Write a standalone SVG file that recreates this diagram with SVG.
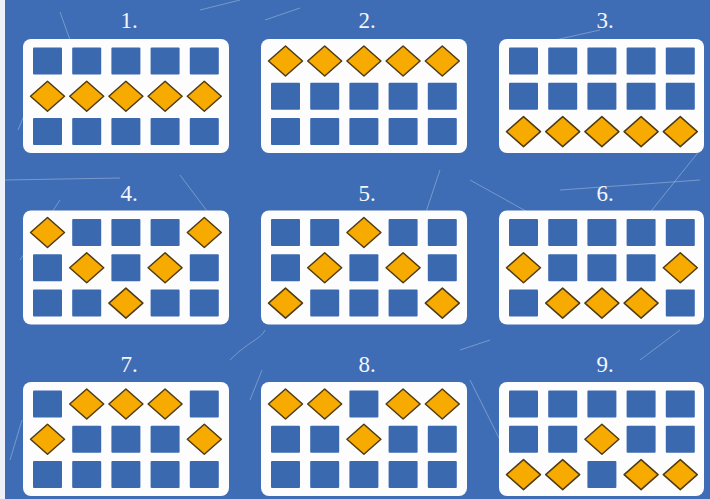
<svg xmlns="http://www.w3.org/2000/svg" xmlns:xlink="http://www.w3.org/1999/xlink" width="710" height="499" viewBox="0 0 710 499">
  <style>
    .bg { fill: #3f6db5; }
    .card { fill: #fdfdfd; }
    .sq { fill: #3b69b0; }
    .dia { fill: #f7aa00; stroke: #4e3a14; stroke-width: 1.5; stroke-linejoin: round; }
    .lbl { font-family: "Liberation Serif", "DejaVu Serif", serif; font-size: 23px; fill: #f4f6fb; text-anchor: middle; }
    .scratch { stroke: #dfe8f6; stroke-opacity: 0.35; stroke-width: 1; fill: none; }
  </style>
  <defs>
    <rect id="sq" class="sq" x="-14.5" y="-13.5" width="29" height="27" rx="1"/>
    <polygon id="dia" class="dia" points="-17,0 0,-15 17,0 0,15"/>
  </defs>

  <rect class="bg" x="0" y="0" width="710" height="499"/>
  <rect x="0" y="0" width="5" height="499" fill="#eef2f8"/>

  <g id="scratches">
    <path class="scratch" d="M18 130 L48 58"/>
    <path class="scratch" d="M60 12 L70 40"/>
    <path class="scratch" d="M200 10 L240 0"/>
    <path class="scratch" d="M265 20 L300 8"/>
    <path class="scratch" d="M555 40 L600 30"/>
    <path class="scratch" d="M560 190 L700 180"/>
    <path class="scratch" d="M640 225 L700 150"/>
    <path class="scratch" d="M470 180 L560 230"/>
    <path class="scratch" d="M420 230 L440 170"/>
    <path class="scratch" d="M20 260 L60 200"/>
    <path class="scratch" d="M180 175 L210 215"/>
    <path class="scratch" d="M5 180 L120 178"/>
    <path class="scratch" d="M230 360 C250 340 260 340 265 330"/>
    <path class="scratch" d="M460 350 L490 340"/>
    <path class="scratch" d="M640 360 L680 330"/>
    <path class="scratch" d="M250 400 L262 370"/>
    <path class="scratch" d="M470 380 L500 440"/>
    <path class="scratch" d="M10 460 L22 420"/>
  </g>

  <!-- Panel 1 -->
  <g id="p1" transform="translate(23,39)">
    <rect class="card" x="0" y="0" width="206" height="114" rx="8"/>
    <text class="lbl" x="106" y="-11">1.</text>
    <use href="#sq" x="24.5" y="22"/><use href="#sq" x="63.7" y="22"/><use href="#sq" x="102.9" y="22"/><use href="#sq" x="142.1" y="22"/><use href="#sq" x="181.3" y="22"/>
    <use href="#dia" x="24.5" y="57.3"/><use href="#dia" x="63.7" y="57.3"/><use href="#dia" x="102.9" y="57.3"/><use href="#dia" x="142.1" y="57.3"/><use href="#dia" x="181.3" y="57.3"/>
    <use href="#sq" x="24.5" y="92.6"/><use href="#sq" x="63.7" y="92.6"/><use href="#sq" x="102.9" y="92.6"/><use href="#sq" x="142.1" y="92.6"/><use href="#sq" x="181.3" y="92.6"/>
  </g>

  <!-- Panel 2 -->
  <g id="p2" transform="translate(261,39)">
    <rect class="card" x="0" y="0" width="206" height="114" rx="8"/>
    <text class="lbl" x="106" y="-11">2.</text>
    <use href="#dia" x="24.5" y="22"/><use href="#dia" x="63.7" y="22"/><use href="#dia" x="102.9" y="22"/><use href="#dia" x="142.1" y="22"/><use href="#dia" x="181.3" y="22"/>
    <use href="#sq" x="24.5" y="57.3"/><use href="#sq" x="63.7" y="57.3"/><use href="#sq" x="102.9" y="57.3"/><use href="#sq" x="142.1" y="57.3"/><use href="#sq" x="181.3" y="57.3"/>
    <use href="#sq" x="24.5" y="92.6"/><use href="#sq" x="63.7" y="92.6"/><use href="#sq" x="102.9" y="92.6"/><use href="#sq" x="142.1" y="92.6"/><use href="#sq" x="181.3" y="92.6"/>
  </g>

  <!-- Panel 3 -->
  <g id="p3" transform="translate(499,39)">
    <rect class="card" x="0" y="0" width="205" height="114" rx="8"/>
    <text class="lbl" x="106" y="-11">3.</text>
    <use href="#sq" x="24.5" y="22"/><use href="#sq" x="63.7" y="22"/><use href="#sq" x="102.9" y="22"/><use href="#sq" x="142.1" y="22"/><use href="#sq" x="181.3" y="22"/>
    <use href="#sq" x="24.5" y="57.3"/><use href="#sq" x="63.7" y="57.3"/><use href="#sq" x="102.9" y="57.3"/><use href="#sq" x="142.1" y="57.3"/><use href="#sq" x="181.3" y="57.3"/>
    <use href="#dia" x="24.5" y="92.6"/><use href="#dia" x="63.7" y="92.6"/><use href="#dia" x="102.9" y="92.6"/><use href="#dia" x="142.1" y="92.6"/><use href="#dia" x="181.3" y="92.6"/>
  </g>

  <!-- Panel 4 -->
  <g id="p4" transform="translate(23,210.5)">
    <rect class="card" x="0" y="0" width="206" height="114" rx="8"/>
    <text class="lbl" x="106" y="-10">4.</text>
    <use href="#dia" x="24.5" y="22"/><use href="#sq" x="63.7" y="22"/><use href="#sq" x="102.9" y="22"/><use href="#sq" x="142.1" y="22"/><use href="#dia" x="181.3" y="22"/>
    <use href="#sq" x="24.5" y="57.3"/><use href="#dia" x="63.7" y="57.3"/><use href="#sq" x="102.9" y="57.3"/><use href="#dia" x="142.1" y="57.3"/><use href="#sq" x="181.3" y="57.3"/>
    <use href="#sq" x="24.5" y="92.6"/><use href="#sq" x="63.7" y="92.6"/><use href="#dia" x="102.9" y="92.6"/><use href="#sq" x="142.1" y="92.6"/><use href="#sq" x="181.3" y="92.6"/>
  </g>

  <!-- Panel 5 -->
  <g id="p5" transform="translate(261,210.5)">
    <rect class="card" x="0" y="0" width="206" height="114" rx="8"/>
    <text class="lbl" x="106" y="-10">5.</text>
    <use href="#sq" x="24.5" y="22"/><use href="#sq" x="63.7" y="22"/><use href="#dia" x="102.9" y="22"/><use href="#sq" x="142.1" y="22"/><use href="#sq" x="181.3" y="22"/>
    <use href="#sq" x="24.5" y="57.3"/><use href="#dia" x="63.7" y="57.3"/><use href="#sq" x="102.9" y="57.3"/><use href="#dia" x="142.1" y="57.3"/><use href="#sq" x="181.3" y="57.3"/>
    <use href="#dia" x="24.5" y="92.6"/><use href="#sq" x="63.7" y="92.6"/><use href="#sq" x="102.9" y="92.6"/><use href="#sq" x="142.1" y="92.6"/><use href="#dia" x="181.3" y="92.6"/>
  </g>

  <!-- Panel 6 -->
  <g id="p6" transform="translate(499,210.5)">
    <rect class="card" x="0" y="0" width="205" height="114" rx="8"/>
    <text class="lbl" x="106" y="-10">6.</text>
    <use href="#sq" x="24.5" y="22"/><use href="#sq" x="63.7" y="22"/><use href="#sq" x="102.9" y="22"/><use href="#sq" x="142.1" y="22"/><use href="#sq" x="181.3" y="22"/>
    <use href="#dia" x="24.5" y="57.3"/><use href="#sq" x="63.7" y="57.3"/><use href="#sq" x="102.9" y="57.3"/><use href="#sq" x="142.1" y="57.3"/><use href="#dia" x="181.3" y="57.3"/>
    <use href="#sq" x="24.5" y="92.6"/><use href="#dia" x="63.7" y="92.6"/><use href="#dia" x="102.9" y="92.6"/><use href="#dia" x="142.1" y="92.6"/><use href="#sq" x="181.3" y="92.6"/>
  </g>

  <!-- Panel 7 -->
  <g id="p7" transform="translate(23,382)">
    <rect class="card" x="0" y="0" width="206" height="114" rx="8"/>
    <text class="lbl" x="106" y="-10">7.</text>
    <use href="#sq" x="24.5" y="22"/><use href="#dia" x="63.7" y="22"/><use href="#dia" x="102.9" y="22"/><use href="#dia" x="142.1" y="22"/><use href="#sq" x="181.3" y="22"/>
    <use href="#dia" x="24.5" y="57.3"/><use href="#sq" x="63.7" y="57.3"/><use href="#sq" x="102.9" y="57.3"/><use href="#sq" x="142.1" y="57.3"/><use href="#dia" x="181.3" y="57.3"/>
    <use href="#sq" x="24.5" y="92.6"/><use href="#sq" x="63.7" y="92.6"/><use href="#sq" x="102.9" y="92.6"/><use href="#sq" x="142.1" y="92.6"/><use href="#sq" x="181.3" y="92.6"/>
  </g>

  <!-- Panel 8 -->
  <g id="p8" transform="translate(261,382)">
    <rect class="card" x="0" y="0" width="206" height="114" rx="8"/>
    <text class="lbl" x="106" y="-10">8.</text>
    <use href="#dia" x="24.5" y="22"/><use href="#dia" x="63.7" y="22"/><use href="#sq" x="102.9" y="22"/><use href="#dia" x="142.1" y="22"/><use href="#dia" x="181.3" y="22"/>
    <use href="#sq" x="24.5" y="57.3"/><use href="#sq" x="63.7" y="57.3"/><use href="#dia" x="102.9" y="57.3"/><use href="#sq" x="142.1" y="57.3"/><use href="#sq" x="181.3" y="57.3"/>
    <use href="#sq" x="24.5" y="92.6"/><use href="#sq" x="63.7" y="92.6"/><use href="#sq" x="102.9" y="92.6"/><use href="#sq" x="142.1" y="92.6"/><use href="#sq" x="181.3" y="92.6"/>
  </g>

  <!-- Panel 9 -->
  <g id="p9" transform="translate(499,382)">
    <rect class="card" x="0" y="0" width="205" height="114" rx="8"/>
    <text class="lbl" x="106" y="-10">9.</text>
    <use href="#sq" x="24.5" y="22"/><use href="#sq" x="63.7" y="22"/><use href="#sq" x="102.9" y="22"/><use href="#sq" x="142.1" y="22"/><use href="#sq" x="181.3" y="22"/>
    <use href="#sq" x="24.5" y="57.3"/><use href="#sq" x="63.7" y="57.3"/><use href="#dia" x="102.9" y="57.3"/><use href="#sq" x="142.1" y="57.3"/><use href="#sq" x="181.3" y="57.3"/>
    <use href="#dia" x="24.5" y="92.6"/><use href="#dia" x="63.7" y="92.6"/><use href="#sq" x="102.9" y="92.6"/><use href="#dia" x="142.1" y="92.6"/><use href="#dia" x="181.3" y="92.6"/>
  </g>

  <g id="connectors"></g>
</svg>
